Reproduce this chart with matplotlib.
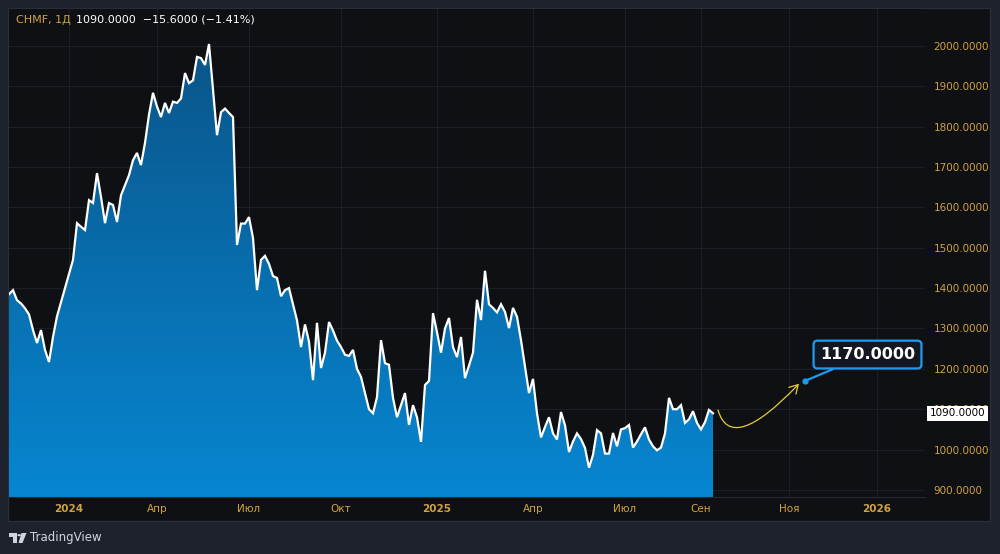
import matplotlib
matplotlib.use('Agg')
import matplotlib.pyplot as plt
import numpy as np
from matplotlib.colors import LinearSegmentedColormap
from matplotlib.patches import Rectangle, Polygon, Circle, FancyArrowPatch
from matplotlib.path import Path
from matplotlib.transforms import blended_transform_factory

# CHMF daily closes, sampled every few sessions
ticker = 'CHMF, 1Д'
last_price = 1090.0
change = -15.6
change_pct = -1.41
target_price = 1170.0
target_bar = 199

closes = [
  1385, 1395, 1370, 1362, 1350, 1335, 1296, 1264, 1296, 1247,
  1217, 1279, 1330, 1365, 1400, 1435, 1470, 1561, 1552, 1544,
  1618, 1611, 1685, 1626, 1561, 1611, 1606, 1564, 1630, 1655,
  1680, 1717, 1735, 1705, 1760, 1830, 1884, 1850, 1824, 1859,
  1834, 1862, 1859, 1870, 1933, 1908, 1915, 1973, 1970, 1953,
  2005, 1891, 1779, 1836, 1845, 1834, 1824, 1507, 1560, 1560,
  1576, 1524, 1395, 1470, 1480, 1460, 1430, 1425, 1380, 1395,
  1400, 1360, 1320, 1254, 1310, 1267, 1172, 1314, 1202, 1240,
  1316, 1295, 1270, 1254, 1235, 1232, 1247, 1200, 1180, 1140,
  1100, 1090, 1130, 1271, 1214, 1210, 1128, 1080, 1110, 1140,
  1061, 1110, 1080, 1019, 1160, 1170, 1338, 1291, 1240, 1300,
  1326, 1254, 1229, 1279, 1177, 1208, 1240, 1371, 1321, 1443,
  1360, 1351, 1340, 1360, 1341, 1301, 1351, 1329, 1271, 1205,
  1140, 1175, 1090, 1030, 1056, 1080, 1040, 1025, 1093, 1060,
  994, 1020, 1040, 1026, 1004, 955, 987, 1048, 1040, 990,
  990, 1041, 1008, 1050, 1053, 1061, 1005, 1020, 1038, 1055,
  1025, 1008, 998, 1005, 1040, 1128, 1100, 1100, 1110, 1066,
  1075, 1095, 1066, 1050, 1068, 1098, 1090,
]

month_bars = [15, 37, 60, 83, 107, 131, 154, 173, 195, 217]
month_labels = ['2024', 'Апр', 'Июл', 'Окт', '2025', 'Апр', 'Июл', 'Сен', 'Ноя', '2026']
price_ticks = list(range(900, 2001, 100))

W, H = 1000, 554
BG = '#1e222d'
PANE = '#0f1013'
GRID = '#1c1f26'
ORANGE = '#cfa33e'
BLUE = '#1e9bf0'


def px(x, y):
  return (x / W, 1 - y / H)


fig = plt.figure(figsize=(W / 100, H / 100), dpi=100, facecolor=BG)
fig.patches.append(Rectangle(px(8, 521), 982 / W, 513 / H, transform=fig.transFigure,
                             fc=PANE, ec='#2a2e39', lw=1, zorder=-5))

ax = fig.add_axes([9 / W, 1 - 497 / H, 916 / W, 488 / H])
ax.set_zorder(1)
ax.set_facecolor(PANE)
ymin, ymax = 882.4, 2091.7
ax.set_xlim(0, 229)
ax.set_ylim(ymin, ymax)

bars = np.arange(len(closes))

# gradient area under the line
poly = ax.fill_between(bars, closes, ymin, color='none', lw=0)
grad = np.linspace(0, 1, 256).reshape(-1, 1)
cmap = LinearSegmentedColormap.from_list('area', ['#0a5589', '#0786d1'])
im = ax.imshow(grad, cmap=cmap, extent=[0, bars[-1], ymin, max(closes)],
               aspect='auto', origin='upper', zorder=1)
im.set_clip_path(poly.get_paths()[0], ax.transData)
ax.plot(bars, closes, color='white', lw=1.6, zorder=3, solid_joinstyle='miter')

ax.set_xticks(month_bars)
ax.set_xticklabels(month_labels)
for lab in ax.get_xticklabels():
  if lab.get_text().isdigit():
    lab.set_fontweight('bold')
ax.yaxis.tick_right()
ax.set_yticks(price_ticks)
ax.set_yticklabels(['{:.4f}'.format(v) for v in price_ticks])
ax.grid(color=GRID, lw=0.8, zorder=0)
ax.set_axisbelow(True)
ax.tick_params(length=0, colors=ORANGE, labelsize=7.5)
ax.tick_params(axis='y', pad=6)
ax.tick_params(axis='x', pad=5)
for side in ['top', 'left', 'right']:
  ax.spines[side].set_visible(False)
ax.spines['bottom'].set_color('#24272f')

# last price marker on the price scale
bt = blended_transform_factory(ax.transAxes, ax.transData)
ax.text(1 + 5 / 916, last_price, '{:.4f}'.format(last_price), transform=bt,
        color='black', fontsize=7.5, va='center', ha='left', clip_on=False, zorder=6,
        bbox=dict(boxstyle='square,pad=0.25', fc='white', ec='none'))

# forecast arrow and target callout
p0 = (bars[-1] + 1.25, 1098)
p1 = (bars[-1] + 4.5, 986)
p2 = (target_bar - 1.5, 1163)
arrow = FancyArrowPatch(path=Path([p0, p1, p2], [Path.MOVETO, Path.CURVE3, Path.CURVE3]),
                        arrowstyle='->,head_length=0.6,head_width=0.35', mutation_scale=10,
                        color='#e3cc3a', lw=0.9, zorder=5)
ax.add_patch(arrow)
ax.plot([target_bar], [target_price], 'o', color=BLUE, ms=3.5, zorder=6)
ax.annotate('{:.4f}'.format(target_price), xy=(target_bar, target_price),
            xytext=(45, 19), textcoords='offset points', ha='center', va='center',
            color='white', fontsize=11.5, fontweight='bold', zorder=7, annotation_clip=False,
            bbox=dict(boxstyle='round,pad=0.4,rounding_size=0.25', fc='#131722', ec=BLUE, lw=1.6),
            arrowprops=dict(arrowstyle='-', color=BLUE, lw=1.6, shrinkA=0, shrinkB=0))

# header
fig.text(16 / W, 1 - 20 / H, ticker, color=ORANGE, fontsize=8, va='center', ha='left')
header = '{:.4f}  {:.4f} ({:.2f}%)'.format(last_price, change, change_pct).replace('-', '−')
fig.text(76 / W, 1 - 20 / H, header, color='white', fontsize=8, va='center', ha='left')

# TradingView logo
logo = '#d1d4dc'
fig.patches.append(Polygon([px(9, 533), px(17, 533), px(17, 543), px(13, 543), px(13, 537), px(9, 537)],
                           closed=True, transform=fig.transFigure, fc=logo, ec='none'))
fig.patches.append(Circle(px(19.2, 535.2), 1.9 / W, transform=fig.transFigure, fc=logo, ec='none'))
fig.patches.append(Polygon([px(21.5, 533), px(26.5, 533), px(22.5, 543), px(18.5, 543)],
                           closed=True, transform=fig.transFigure, fc=logo, ec='none'))
fig.text(30 / W, 1 - 538 / H, 'TradingView', color=logo, fontsize=8.5, va='center', ha='left')

plt.savefig('out.png', dpi=100, facecolor=BG)
